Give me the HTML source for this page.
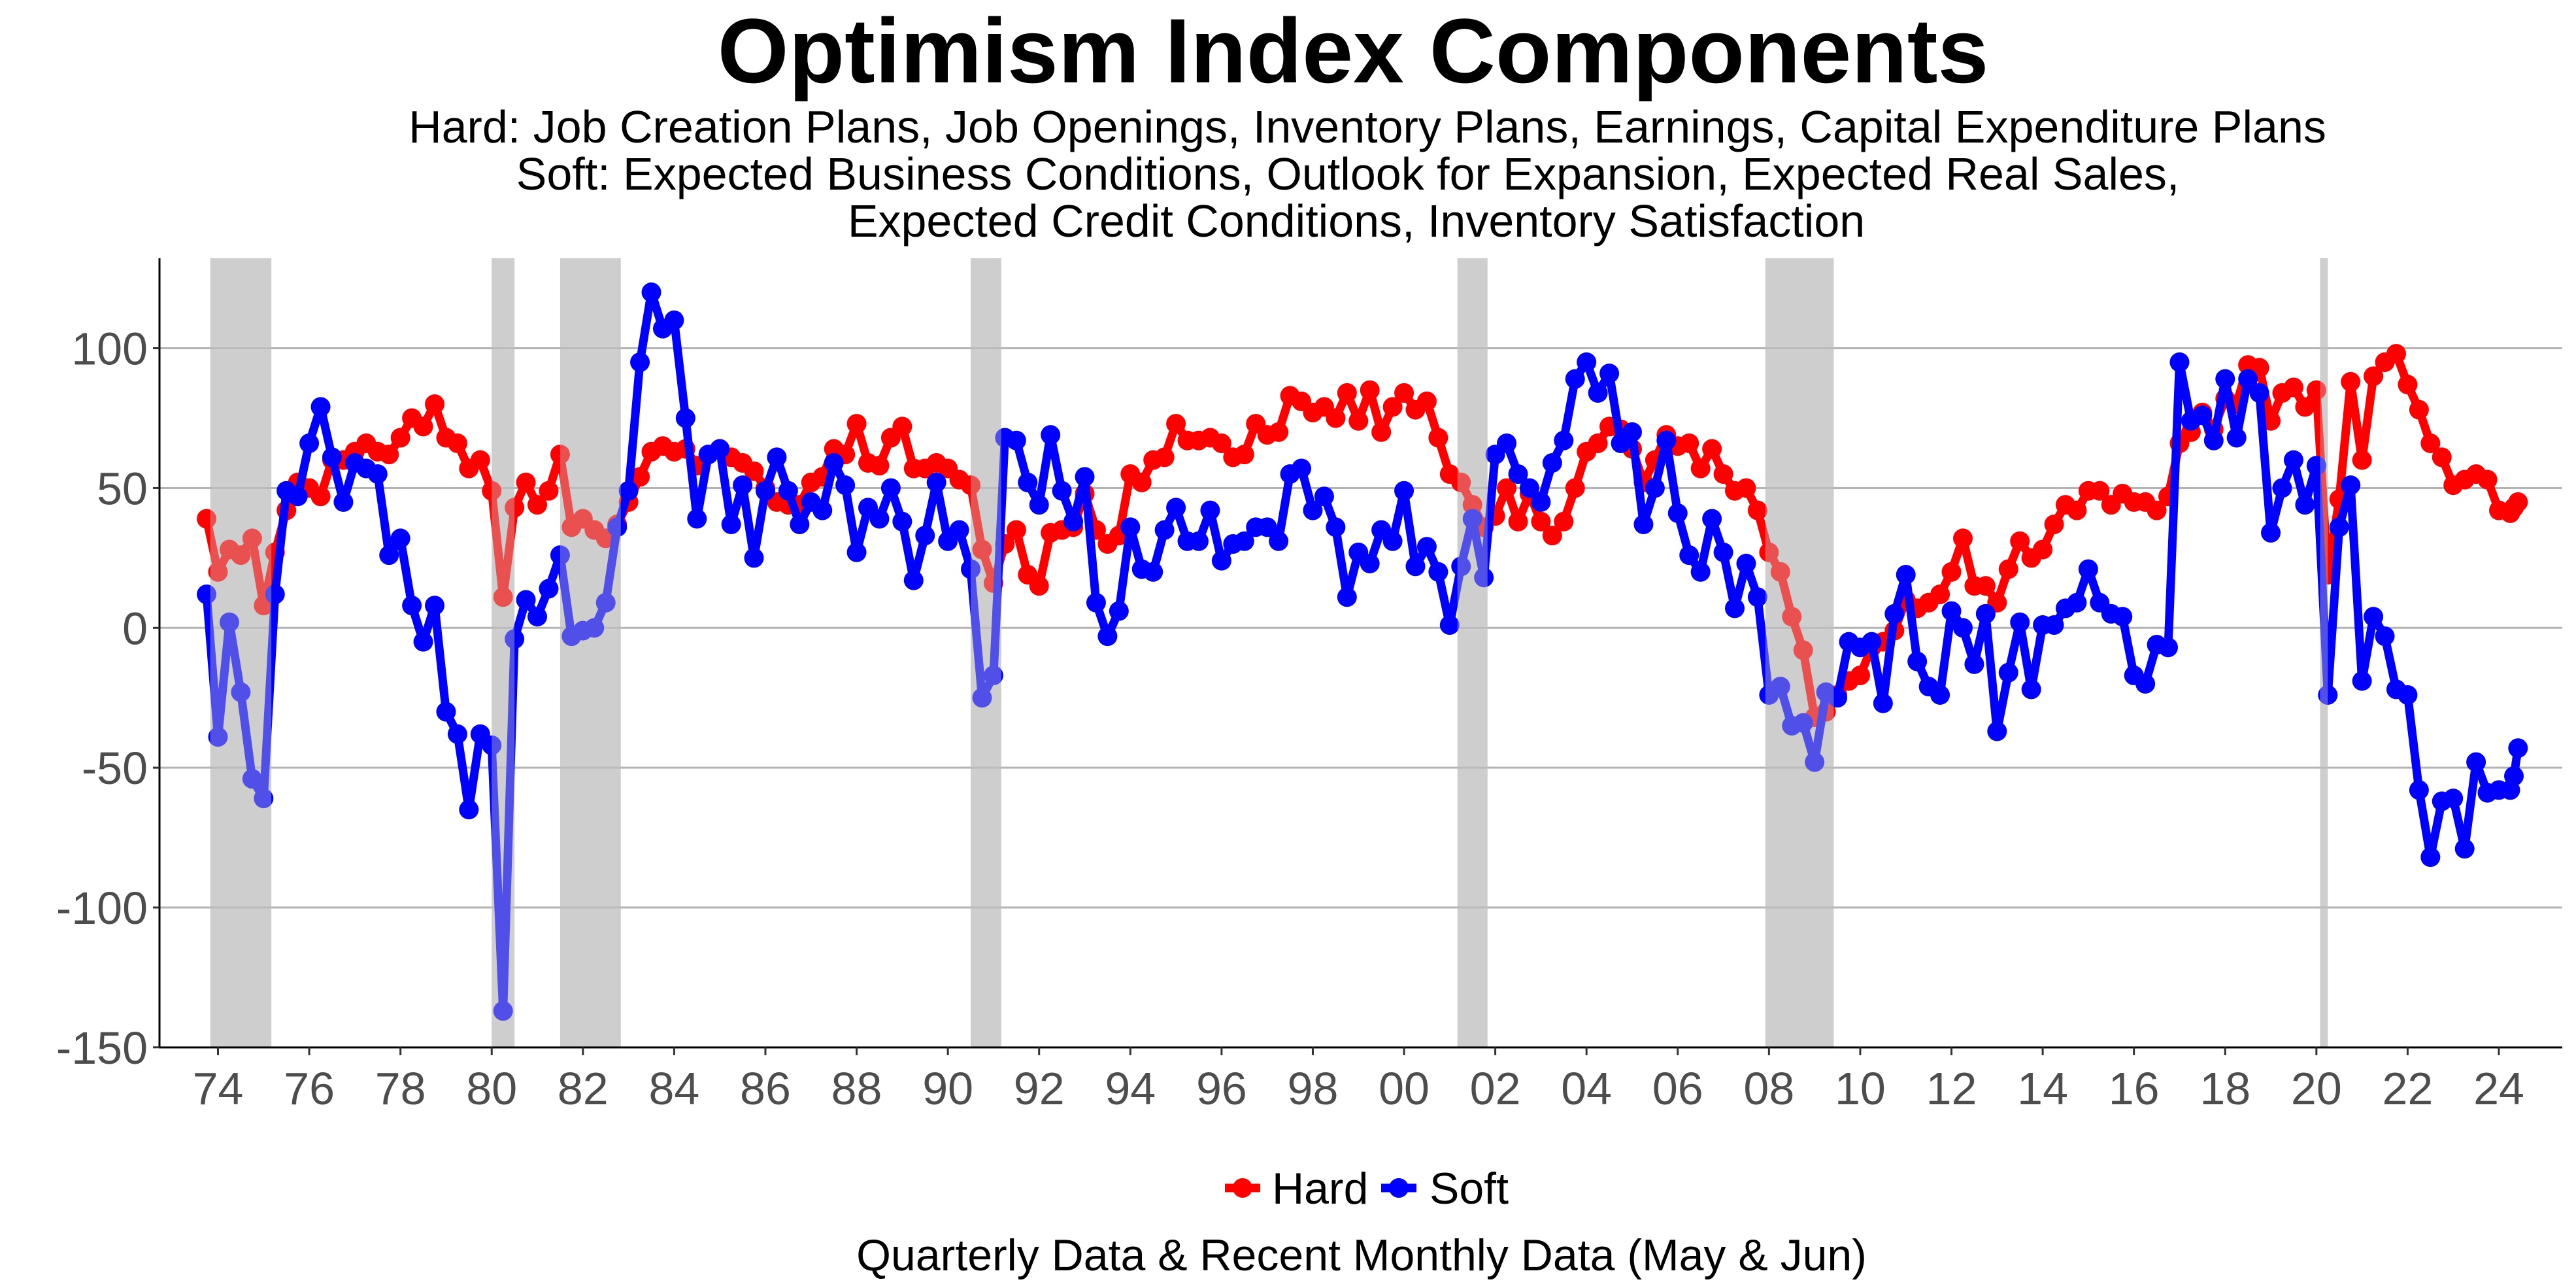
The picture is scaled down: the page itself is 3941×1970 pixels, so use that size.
<!DOCTYPE html>
<html><head><meta charset="utf-8"><title>Optimism Index Components</title>
<style>
html,body{margin:0;padding:0;background:#fff;}
svg{display:block;font-family:"Liberation Sans",Arial,sans-serif;}
</style></head>
<body>
<svg id="chart" width="3941" height="1970" viewBox="0 0 3941 1970" xmlns="http://www.w3.org/2000/svg">
<rect x="0" y="0" width="3941" height="1970" fill="#fff"/>
<text x="2070" y="126" font-size="140" font-weight="bold" text-anchor="middle" fill="#000">Optimism Index Components</text>
<text x="2092" y="218" font-size="70" text-anchor="middle" fill="#000">Hard: Job Creation Plans, Job Openings, Inventory Plans, Earnings, Capital Expenditure Plans</text>
<text x="2062" y="290" font-size="70" text-anchor="middle" fill="#000">Soft: Expected Business Conditions, Outlook for Expansion, Expected Real Sales,</text>
<text x="2075" y="362" font-size="70" text-anchor="middle" fill="#000">Expected Credit Conditions, Inventory Satisfaction</text>
<g id="bandsUnder"></g>
<g id="grid"></g>
<g id="series"></g>
<g id="bandsOver"></g>
<g id="axes"></g>
<g>
  <line x1="1874" y1="1817" x2="1928" y2="1817" stroke="#ff0000" stroke-width="13"/>
  <circle cx="1901" cy="1817" r="15" fill="#ff0000"/>
  <text x="1946" y="1841" font-size="68" fill="#000">Hard</text>
  <line x1="2113" y1="1817" x2="2167" y2="1817" stroke="#0000ff" stroke-width="13"/>
  <circle cx="2140" cy="1817" r="15" fill="#0000ff"/>
  <text x="2187" y="1841" font-size="68" fill="#000">Soft</text>
</g>
<text x="2083" y="1943" font-size="68" text-anchor="middle" fill="#000">Quarterly Data &amp; Recent Monthly Data (May &amp; Jun)</text>
</svg>
<script>
const startYear = 1973.75;
const hardQ = [39,20,28,26,32,8,27,42,52,50,47,60,60,63,66,63,62,68,75,72,80,68,66,57,60,49,11,43,52,44,49,62,36,39,35,32,37,
45,54,63,65,63,64,58,62,64,61,59,56,50,45,44,44,52,54,64,62,73,59,58,68,72,57,57,59,57,53,51,28,16,30,35,19,15,
34,35,36,48,35,30,33,55,52,60,61,73,67,67,68,66,61,62,73,69,70,83,81,77,79,75,84,74,85,70,79,84,78,81,68,55,
52,44,36,40,50,38,48,38,33,38,50,63,66,72,71,64,52,60,69,65,66,57,64,55,49,50,42,27,20,4,-8,-32,-30,-24,-19,-17,
-7,-5,-1,10,7,9,12,20,32,15,15,9,21,31,25,28,37,44,42,49,49,44,48,45,45,42,47,66,70,77,71,82,80,94,93,74,84,86,79,85,
19,46,88,60,90,95,98,87,78,66,61,51,53,55,53,42,41];
const softQ = [12,-39,2,-23,-54,-61,12,49,47,66,79,61,45,59,57,55,26,32,8,-5,8,-30,-38,-65,-38,-42,-137,-4,10,4,14,26,-3,-1,0,9,36,
49,95,120,107,110,75,39,62,64,37,51,25,49,61,49,37,45,42,59,51,27,43,39,50,38,17,33,52,31,35,21,-25,-17,68,67,52,44,
69,49,38,54,9,-3,6,36,21,20,35,43,31,31,42,24,30,31,36,36,31,55,57,42,47,36,11,27,23,35,31,49,22,29,20,1,
22,39,18,62,66,55,50,45,59,67,89,95,84,91,66,70,37,50,67,41,26,20,39,27,7,23,11,-24,-21,-35,-34,-48,-23,-25,-5,-7,
-5,-27,5,19,-12,-21,-24,6,0,-13,5,-37,-16,2,-22,1,1,7,9,21,9,5,4,-17,-20,-6,-7,95,74,76,67,89,68,89,84,34,50,60,44,58,
-24,36,51,-19,4,-3,-22,-24,-58,-82,-62,-61,-79,-48,-59,-58,-58];
const monthDates = [2024.33, 2024.42];
const hardM = [43, 45];
const softM = [-53, -43];
const recessionStart = [1973.83,1980.0,1981.5,1990.5,2001.17,2007.92,2020.08];
const recessionEnd = [1975.17,1980.5,1982.83,1991.17,2001.83,2009.42,2020.25];
const yTicks = [100,50,0,-50,-100,-150];
const xTickYears = [];
for (let yr = 1974; yr <= 2024; yr += 2) xTickYears.push(yr);

const NS = "http://www.w3.org/2000/svg";
const PL = 244, PR = 3920, PT = 395, PB = 1602;
function xs(t){ return 333.5 + (t - 1974) * 69.79; }
function ys(v){ return 960.3 - v * 4.277; }
function mk(tag, attrs, parent){
  const e = document.createElementNS(NS, tag);
  for (const k in attrs) e.setAttribute(k, attrs[k]);
  parent.appendChild(e); return e;
}
const bu = document.getElementById('bandsUnder'), bo = document.getElementById('bandsOver');
recessionStart.forEach((s, i) => {
  const r1 = mk('rect', {x: xs(s), y: PT, width: xs(recessionEnd[i]) - xs(s), height: PB - PT, fill: '#d3d3d3'}, bu);
  
  
  const r2 = mk('rect', {x: xs(s), y: PT, width: xs(recessionEnd[i]) - xs(s), height: PB - PT, fill: '#c8c8c8', 'fill-opacity': 0.4}, bo);
  
  
});
const grid = document.getElementById('grid');
yTicks.forEach(v => {
  if (v === -150) return;
  const l = mk('line', {x1: PL, x2: PR, y1: ys(v), y2: ys(v), stroke: '#b3b3b3', 'stroke-width': 3}, grid);
  
  
});
const sg = document.getElementById('series');
function drawSeries(q, m, color, name){
  const pts = q.map((v, i) => [xs(startYear + i * 0.25), ys(v)]);
  m.forEach((v, i) => pts.push([xs(monthDates[i]), ys(v)]));
  const g = mk('g', {}, sg);
  
  
  const p = mk('polyline', {points: pts.map(p => p.join(',')).join(' '), fill: 'none', stroke: color, 'stroke-width': 13, 'stroke-linejoin': 'round'}, g);
  
  
  pts.forEach(pt => {
    const c = mk('circle', {cx: pt[0], cy: pt[1], r: 15, fill: color}, g);
    
    
  });
}
drawSeries(hardQ, hardM, '#ff0000', 'hard');
drawSeries(softQ, softM, '#0000ff', 'soft');
const ax = document.getElementById('axes');
mk('line', {x1: PL, x2: PL, y1: PT, y2: PB + 1, stroke: '#000', 'stroke-width': 3}, ax);
mk('line', {x1: PL - 1, x2: PR, y1: PB, y2: PB, stroke: '#000', 'stroke-width': 3}, ax);
yTicks.forEach(v => {
  mk('line', {x1: PL - 10, x2: PL, y1: ys(v), y2: ys(v), stroke: '#333', 'stroke-width': 3}, ax);
  const t = mk('text', {x: PL - 18, y: ys(v) + 25, 'font-size': 70, 'text-anchor': 'end', fill: '#4d4d4d'}, ax);
  
  
  t.textContent = String(v);
});
xTickYears.forEach(yr => {
  mk('line', {x1: xs(yr), x2: xs(yr), y1: PB, y2: PB + 12, stroke: '#333', 'stroke-width': 3}, ax);
  const t = mk('text', {x: xs(yr), y: 1689, 'font-size': 70, 'text-anchor': 'middle', fill: '#4d4d4d'}, ax);
  
  
  t.textContent = String(yr % 100).padStart(2, '0');
});
</script>
</body></html>
